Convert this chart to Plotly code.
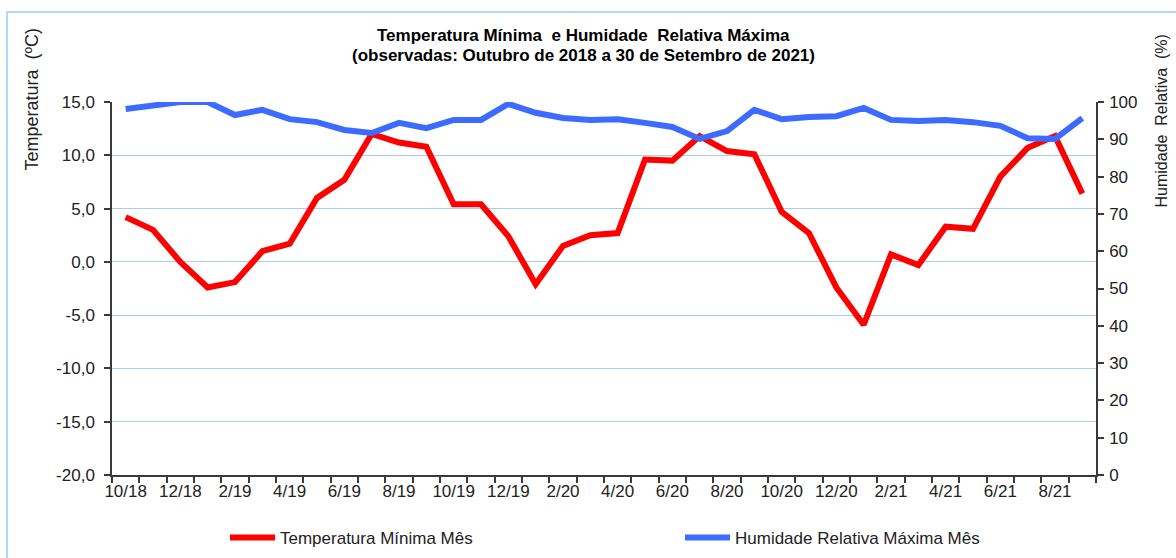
import plotly.graph_objects as go

months = ['10/18', '11/18', '12/18', '1/19', '2/19', '3/19', '4/19', '5/19', '6/19', '7/19', '8/19', '9/19',
          '10/19', '11/19', '12/19', '1/20', '2/20', '3/20', '4/20', '5/20', '6/20', '7/20', '8/20', '9/20',
          '10/20', '11/20', '12/20', '1/21', '2/21', '3/21', '4/21', '5/21', '6/21', '7/21', '8/21', '9/21']
temp_min = [4.2, 3.0, 0.0, -2.4, -1.9, 1.0, 1.7, 6.0, 7.7, 12.0, 11.2, 10.8,
            5.4, 5.4, 2.4, -2.1, 1.5, 2.5, 2.7, 9.6, 9.5, 11.8, 10.4, 10.1,
            4.7, 2.7, -2.4, -5.9, 0.7, -0.3, 3.3, 3.1, 8.0, 10.7, 11.8, 6.4]
hum_max = [98.1, 99.2, 100, 100, 96.5, 97.9, 95.4, 94.6, 92.5, 91.7, 94.4, 93.0,
           95.2, 95.2, 99.5, 97.1, 95.7, 95.2, 95.4, 94.4, 93.3, 90.1, 92.2, 97.9,
           95.4, 96.0, 96.2, 98.4, 95.2, 94.9, 95.2, 94.6, 93.6, 90.3, 90.1, 95.7]
x_tick_labels = [m if i % 2 == 0 else '' for i, m in enumerate(months)]
temp_ticks = [-20, -15, -10, -5, 0, 5, 10, 15]
temp_tick_labels = ['-20,0', '-15,0', '-10,0', '-5,0', '0,0', '5,0', '10,0', '15,0']
hum_ticks = [0, 10, 20, 30, 40, 50, 60, 70, 80, 90, 100]

FONT = 'Arial, Liberation Sans, sans-serif'
AX = '#3a3a3a'
GRID = '#A4CEF7'
TXT = '#222'
FS = 17

fig = go.Figure()
fig.add_trace(go.Scatter(x=months, y=temp_min, name='Temperatura Mínima Mês', mode='lines',
                         line=dict(color='#FF0000', width=6), yaxis='y'))
fig.add_trace(go.Scatter(x=months, y=hum_max, name='Humidade Relativa Máxima Mês', mode='lines',
                         line=dict(color='#3D6BFF', width=6), yaxis='y2'))

L, R, T, B = 112, 80, 102, 83
PW, PH = 1176 - L - R, 558 - T - B


def px(xp):
    return (xp - L) / PW


def py(yp):
    return (558 - B - yp) / PH


fig.update_layout(
    width=1176, height=558,
    margin=dict(l=L, r=R, t=T, b=B, autoexpand=False),
    paper_bgcolor='white', plot_bgcolor='white',
    font=dict(family=FONT, size=FS, color=TXT),
    showlegend=True,
    xaxis=dict(type='category', tickmode='array', tickvals=months, ticktext=x_tick_labels,
               tickson='boundaries', tickangle=0, ticks='outside', ticklen=6, tickcolor=AX, tickwidth=1.5,
               showline=True, linecolor=AX, linewidth=1.5, showgrid=False, zeroline=False,
               tickfont=dict(size=FS, color=TXT), range=[-0.5, len(months) - 0.5]),
    yaxis=dict(range=[-20, 15], tickmode='array', tickvals=temp_ticks, ticktext=temp_tick_labels,
               showgrid=True, gridcolor=GRID, gridwidth=1.2, zeroline=False,
               showline=True, linecolor=AX, linewidth=1.5,
               ticks='outside', ticklen=6, tickcolor=AX, tickwidth=1.5, ticklabelstandoff=6,
               tickfont=dict(size=FS, color=TXT)),
    yaxis2=dict(overlaying='y', side='right', range=[0, 100], tickmode='array', tickvals=hum_ticks,
                showgrid=False, zeroline=False, showline=True, linecolor=AX, linewidth=1.5,
                ticks='outside', ticklen=6, tickcolor=AX, tickwidth=1.5, ticklabelstandoff=2,
                tickfont=dict(size=FS, color=TXT)),
    legend=dict(orientation='h', x=px(225), xanchor='left', y=py(538), yanchor='middle',
                itemwidth=45, entrywidth=395, entrywidthmode='pixels',
                font=dict(size=FS, color=TXT), bgcolor='rgba(0,0,0,0)'),
    annotations=[
        dict(text='<b>Temperatura Mínima  e Humidade  Relativa Máxima</b>', xref='paper', yref='paper',
             x=px(583), y=py(35), xanchor='center', yanchor='middle', showarrow=False,
             font=dict(size=17, color='#000')),
        dict(text='<b>(observadas: Outubro de 2018 a 30 de Setembro de 2021)</b>', xref='paper', yref='paper',
             x=px(583), y=py(56), xanchor='center', yanchor='middle', showarrow=False,
             font=dict(size=17, color='#000')),
        dict(text='Temperatura  (ºC)', textangle=-90, xref='paper', yref='paper',
             x=px(31), y=py(26), xanchor='center', yanchor='top',
             showarrow=False, font=dict(size=18, color=TXT)),
        dict(text='Humidade  Relativa  (%)', textangle=-90, xref='paper', yref='paper',
             x=px(1161), y=py(33), xanchor='center', yanchor='top',
             showarrow=False, font=dict(size=16, color=TXT)),
    ],
    shapes=[dict(type='rect', xref='paper', yref='paper', layer='below',
                 x0=px(7), x1=px(1200), y0=py(580), y1=py(12),
                 line=dict(color='#9CCBF7', width=1.5))],
)

fig.write_html('out.html', config={'displayModeBar': False},
               post_script="document.body.style.margin='0';document.body.style.overflow='hidden';")
